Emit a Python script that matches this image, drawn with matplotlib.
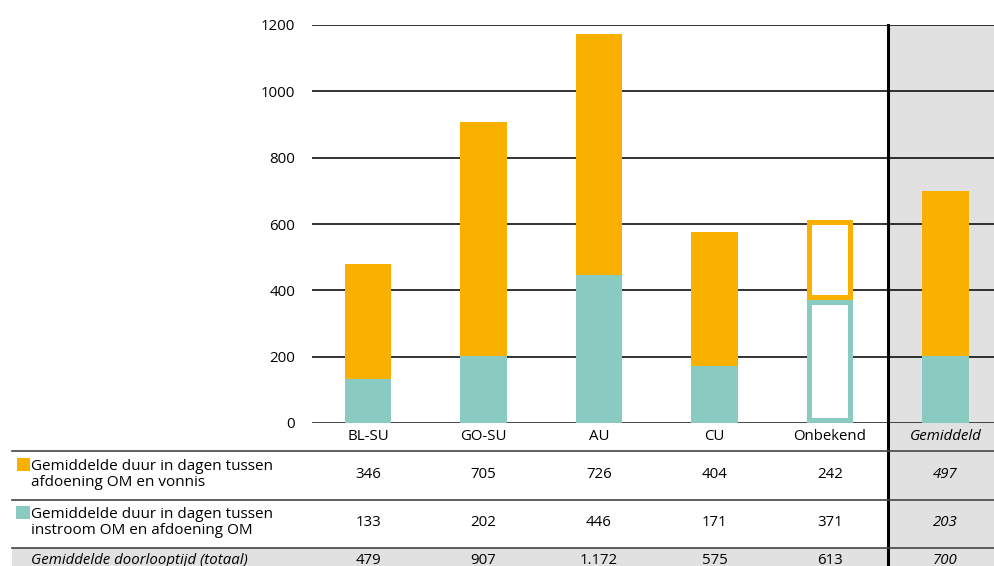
import matplotlib
matplotlib.use("Agg")
import matplotlib.pyplot as plt
from matplotlib.transforms import blended_transform_factory
from matplotlib.patches import Rectangle

categories = ["BL-SU", "GO-SU", "AU", "CU", "Onbekend", "Gemiddeld"]
afdoening_vonnis = [346, 705, 726, 404, 242, 497]
instroom_afdoening = [133, 202, 446, 171, 371, 203]
totaal = [479, 907, 1172, 575, 613, 700]
totaal_labels = ["479", "907", "1.172", "575", "613", "700"]
yticks = [0, 200, 400, 600, 800, 1000, 1200]
label_orange = "Gemiddelde duur in dagen tussen\nafdoening OM en vonnis"
label_teal = "Gemiddelde duur in dagen tussen\ninstroom OM en afdoening OM"
label_total = "Gemiddelde doorlooptijd (totaal)"

ORANGE = "#F9B000"
TEAL = "#8ACBC1"
GRAY = "#E1E1E1"
FONT = "Open Sans"
FS = 10.8

W, H = 994, 566
fig = plt.figure(figsize=(W / 100, H / 100), dpi=100)
plt.rcParams['font.family'] = [FONT, 'DejaVu Sans']

def fy(py):
    return 1 - py / H

ax_left, ax_top, ax_bottom = 312, 25, 423
ax = fig.add_axes([ax_left / W, fy(ax_bottom), (W - ax_left) / W, (ax_bottom - ax_top) / H])
ax.set_xlim(-0.485, 5.42)
ax.set_ylim(0, 1200)
for s in ax.spines.values():
    s.set_visible(False)
ax.set_xticks([])
ax.set_yticks(yticks)
ax.set_yticklabels([str(v) for v in yticks], fontsize=FS)
ax.tick_params(axis='y', length=0, pad=12)
for v in yticks:
    ax.axhline(v, color="#111111", lw=1.8 if v == 0 else 1.2, zorder=1)

# gray background for average column (axes area)
ax.axvspan(4.5, 5.42, color=GRAY, zorder=0, lw=0)

bw = 0.40
xs = list(range(len(categories)))
for i in xs:
    ax.bar(i, instroom_afdoening[i], width=bw, color=TEAL, zorder=2, lw=0)
    ax.bar(i, afdoening_vonnis[i], width=bw, bottom=instroom_afdoening[i], color=ORANGE, zorder=2, lw=0)
    if categories[i] == "Onbekend":
        ins_x = 5 / 115.5
        ins_y = 5 * 1200 / 398
        ax.bar(i, instroom_afdoening[i] - 2 * ins_y, width=bw - 2 * ins_x, bottom=ins_y,
               color="white", zorder=3, lw=0)
        ax.bar(i, afdoening_vonnis[i] - 2 * ins_y, width=bw - 2 * ins_x,
               bottom=instroom_afdoening[i] + ins_y, color="white", zorder=3, lw=0)

# table below, x in data coords, y in figure coords
tr = blended_transform_factory(ax.transData, fig.transFigure)

# row 3 gray band across full width (behind everything)
fig.patches.append(Rectangle((12 / W, 0), 1, fy(548), transform=fig.transFigure,
                             color=GRAY, zorder=-2, lw=0))
# gray background in table area for average column
ax.add_patch(Rectangle((4.5, 0), 1.0, fy(ax_bottom), transform=tr, color=GRAY,
                       clip_on=False, zorder=0, lw=0))

# horizontal table lines
for py in [451, 500, 548]:
    fig.add_artist(plt.Line2D([12 / W, 1], [fy(py), fy(py)], color="#444444", lw=1.2,
                              transform=fig.transFigure, zorder=4))
# vertical separator
ax.plot([4.5, 4.5], [0, fy(ax_top)], transform=tr, color="black", lw=2.2, clip_on=False, zorder=5)

for i, c in enumerate(categories):
    ital = 'italic' if c == "Gemiddeld" else 'normal'
    ax.text(i, fy(437), c, transform=tr, ha='center', va='center', fontsize=FS, style=ital, zorder=6)
    ax.text(i, fy(475), str(afdoening_vonnis[i]), transform=tr, ha='center', va='center',
            fontsize=FS, style=ital, zorder=6)
    ax.text(i, fy(523), str(instroom_afdoening[i]), transform=tr, ha='center', va='center',
            fontsize=FS, style=ital, zorder=6)
    ax.text(i, fy(561), totaal_labels[i], transform=tr, ha='center', va='center',
            fontsize=FS, style=ital, zorder=6)

# legend squares and row labels
fig.patches.append(Rectangle((17 / W, fy(471)), 13 / W, 13 / H, transform=fig.transFigure,
                             color=ORANGE, lw=0))
fig.patches.append(Rectangle((16 / W, fy(519)), 14 / W, 13 / H, transform=fig.transFigure,
                             color=TEAL, lw=0))
fig.text(31 / W, fy(474.5), label_orange, ha='left', va='center', fontsize=FS + 0.2, linespacing=1.1)
fig.text(31 / W, fy(522.5), label_teal, ha='left', va='center', fontsize=FS + 0.2, linespacing=1.1)
fig.text(31 / W, fy(561), label_total, ha='left', va='center', fontsize=FS, style='italic')

fig.savefig("out.png", dpi=100)
